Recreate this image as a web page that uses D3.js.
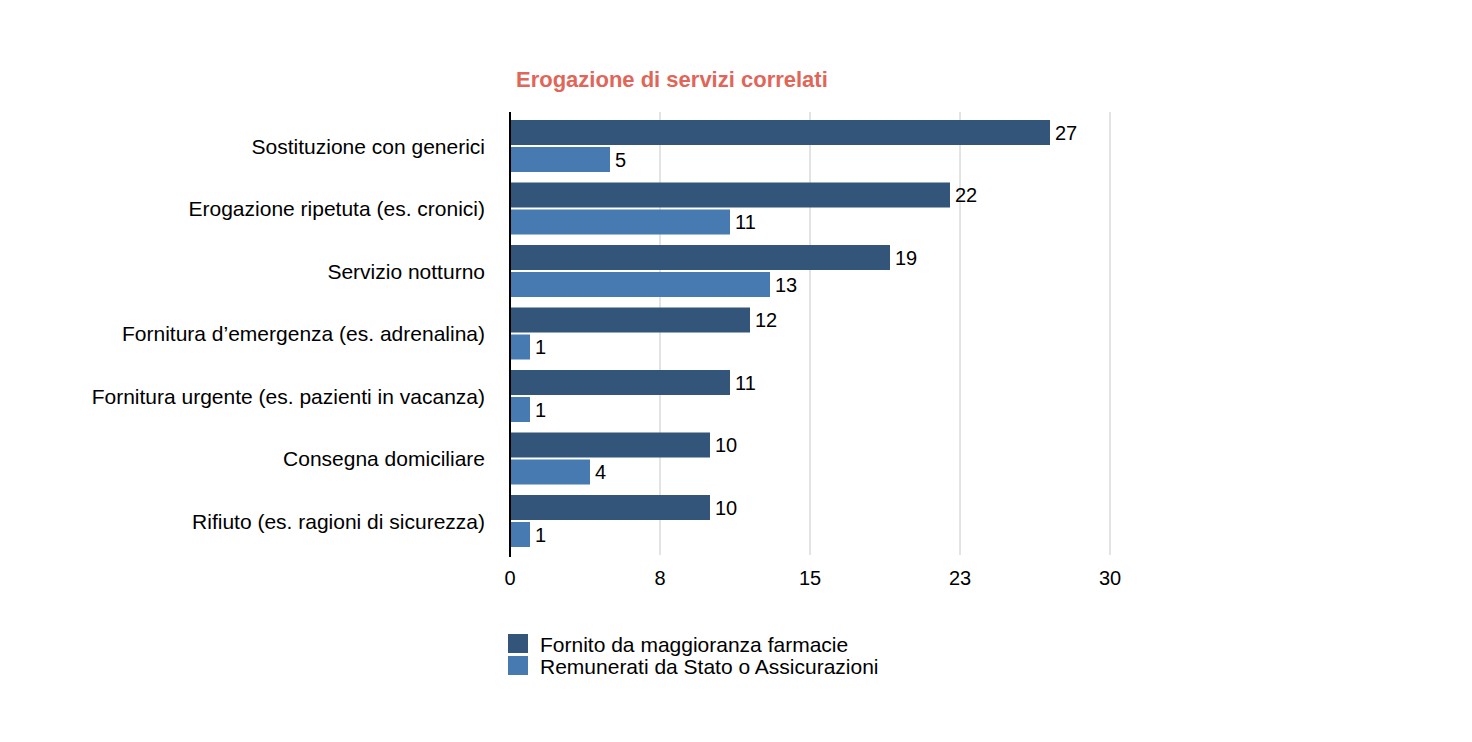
<!DOCTYPE html>
<html>
<head>
<meta charset="utf-8">
<script src="https://cdn.jsdelivr.net/npm/d3@7"></script>
<style>
  body { margin: 0; background: #ffffff; }
  svg text { font-family: "Liberation Sans", Arial, Helvetica, sans-serif; }
</style>
</head>
<body>
<script>
// Chart data
var categories = [
    "Sostituzione con generici",
    "Erogazione ripetuta (es. cronici)",
    "Servizio notturno",
    "Fornitura d\u2019emergenza (es. adrenalina)",
    "Fornitura urgente (es. pazienti in vacanza)",
    "Consegna domiciliare",
    "Rifiuto (es. ragioni di sicurezza)"
];
var seriesNames = ["Fornito da maggioranza farmacie", "Remunerati da Stato o Assicurazioni"];
var fornito = [27, 22, 19, 12, 11, 10, 10];
var remunerati = [5, 11, 13, 1, 1, 4, 1];
var tickValues = [0, 7.5, 15, 22.5, 30];
var tickLabels = ["0", "8", "15", "23", "30"];

var colors = ["#34557a", "#467ab1"];

var width = 1472, height = 742;
var plotLeft = 510, plotRight = 1110;
var gridTop = 112, gridBottom = 555;

var svg = d3.select("body").append("svg")
    .attr("width", width)
    .attr("height", height);

var x = d3.scaleLinear().domain([0, 30]).range([plotLeft, plotRight]);

// Category bands
var y = d3.scaleBand()
    .domain(categories)
    .range([114.75, 552.25])
    .paddingInner(0.168)
    .paddingOuter(0.084);

// Series sub-bands inside each category
var sub = d3.scaleBand()
    .domain([0, 1])
    .range([0, y.bandwidth()])
    .paddingInner(0.074);

// Title
svg.append("text")
    .attr("x", 516)
    .attr("y", 87)
    .attr("fill", "#e0665a")
    .attr("font-size", 22)
    .attr("font-weight", "bold")
    .text("Erogazione di servizi correlati");

// Gridlines
svg.append("g").selectAll("line")
    .data(tickValues.slice(1))
    .enter().append("line")
    .attr("x1", function (d) { return x(d); })
    .attr("x2", function (d) { return x(d); })
    .attr("y1", gridTop)
    .attr("y2", gridBottom)
    .attr("stroke", "#c8c8c8")
    .attr("stroke-width", 1);

// Bars
var rows = categories.map(function (c, i) {
    return { cat: c, vals: [fornito[i], remunerati[i]] };
});

var groups = svg.append("g").selectAll("g")
    .data(rows)
    .enter().append("g")
    .attr("transform", function (d) { return "translate(0," + y(d.cat) + ")"; });

groups.selectAll("rect")
    .data(function (d) { return d.vals.map(function (v, j) { return { v: v, j: j }; }); })
    .enter().append("rect")
    .attr("x", x(0) + 1)
    .attr("y", function (d) { return sub(d.j); })
    .attr("width", function (d) { return x(d.v) - x(0) - 1; })
    .attr("height", sub.bandwidth())
    .attr("fill", function (d) { return colors[d.j]; });

// Value labels
groups.selectAll("text.val")
    .data(function (d) { return d.vals.map(function (v, j) { return { v: v, j: j }; }); })
    .enter().append("text")
    .attr("class", "val")
    .attr("x", function (d) { return x(d.v) + 5; })
    .attr("y", function (d) { return sub(d.j) + sub.bandwidth() / 2; })
    .attr("dy", "0.36em")
    .attr("font-size", 20)
    .attr("fill", "#000")
    .text(function (d) { return d.v; });

// Category labels
svg.append("g").selectAll("text")
    .data(categories)
    .enter().append("text")
    .attr("x", 485)
    .attr("y", function (d) { return y(d) + y.bandwidth() / 2; })
    .attr("dy", "0.36em")
    .attr("text-anchor", "end")
    .attr("font-size", 21)
    .attr("fill", "#000")
    .text(function (d) { return d; });

// Axis line
svg.append("line")
    .attr("x1", plotLeft)
    .attr("x2", plotLeft)
    .attr("y1", gridTop)
    .attr("y2", gridBottom + 2)
    .attr("stroke", "#000")
    .attr("stroke-width", 2);

// Tick labels
svg.append("g").selectAll("text")
    .data(tickValues)
    .enter().append("text")
    .attr("x", function (d) { return x(d); })
    .attr("y", 585)
    .attr("text-anchor", "middle")
    .attr("font-size", 20)
    .attr("fill", "#000")
    .text(function (d, i) { return tickLabels[i]; });

// Legend
var legend = svg.append("g").selectAll("g")
    .data(seriesNames)
    .enter().append("g")
    .attr("transform", function (d, i) { return "translate(508," + (634 + i * 22) + ")"; });

legend.append("rect")
    .attr("width", 20)
    .attr("height", 19)
    .attr("fill", function (d, i) { return colors[i]; });

legend.append("text")
    .attr("x", 32)
    .attr("y", 10)
    .attr("dy", "0.36em")
    .attr("font-size", 21)
    .attr("fill", "#000")
    .text(function (d) { return d; });
</script>
</body>
</html>
